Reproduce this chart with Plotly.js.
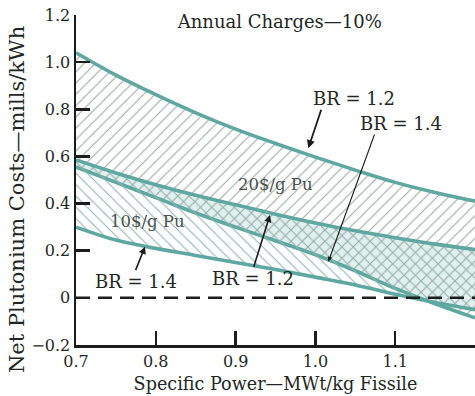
<!DOCTYPE html>
<html>
<head>
<meta charset="utf-8">
<script src="https://cdn.plot.ly/plotly-3.0.1.min.js"></script>
<style>html,body{margin:0;padding:0;background:#fff;}#chart{width:475px;height:396px;}</style>
</head>
<body>
<div id="chart"></div>
<script>
// Specific power (MWt/kg fissile)
const specificPower = [0.7, 0.75, 0.8, 0.85, 0.9, 0.95, 1.0, 1.05, 1.1, 1.15, 1.2];
// Net plutonium costs (mills/kWh)
const pu20_BR12 = [1.04, 0.945, 0.862, 0.785, 0.716, 0.655, 0.597, 0.542, 0.49, 0.447, 0.41];
const pu20_BR14 = [0.555, 0.49, 0.425, 0.36, 0.30, 0.242, 0.183, 0.115, 0.04, -0.025, -0.085];
const pu10_BR12 = [0.585, 0.53, 0.48, 0.435, 0.395, 0.355, 0.318, 0.285, 0.255, 0.228, 0.205];
const pu10_BR14 = [0.30, 0.245, 0.21, 0.18, 0.15, 0.12, 0.088, 0.055, 0.015, -0.02, -0.05];
const zeroLine = [0, 0];
const zeroX = [0.7, 1.2];
const xTickVals = [0.7, 0.8, 0.9, 1.0, 1.1, 1.2];
const xTickText = ['0.7', '0.8', '0.9', '1.0', '1.1', '1.2'];
const yTickVals = [-0.2, 0, 0.2, 0.4, 0.6, 0.8, 1.0, 1.2];
const yTickText = ['\u22120.2', '0', '0.2', '0.4', '0.6', '0.8', '1.0', '1.2'];

// overlap of the two bands (cross-hatched region)
const overlapLow = pu20_BR14.map((v, i) => Math.max(v, pu10_BR14[i]));
const overlapHigh = pu10_BR12.map((v, i) => Math.min(v, pu20_BR12[i]));

const teal = '#5fa8a1';
const ink = '#1e2724';
const serif = 'DejaVu Serif';

const lineStyle = {color: teal, width: 3.6, shape: 'spline', smoothing: 1};

const traces = [
  {x: specificPower, y: overlapLow, mode: 'lines', line: {width: 0, shape: 'spline', smoothing: 1}},
  {x: specificPower, y: overlapHigh, mode: 'lines', line: {width: 0, shape: 'spline', smoothing: 1},
   fill: 'tonexty', fillcolor: 'rgba(140,200,195,0.28)'},
  {x: specificPower, y: pu20_BR14, mode: 'lines', line: lineStyle},
  {x: specificPower, y: pu20_BR12, mode: 'lines', line: lineStyle, fill: 'tonexty',
   fillcolor: 'rgba(0,0,0,0)',
   fillpattern: {shape: '/', fgcolor: '#9ea6a4', bgcolor: 'rgba(0,0,0,0)', size: 8, solidity: 0.14}},
  {x: specificPower, y: pu10_BR14, mode: 'lines', line: lineStyle},
  {x: specificPower, y: pu10_BR12, mode: 'lines', line: lineStyle, fill: 'tonexty',
   fillcolor: 'rgba(0,0,0,0)',
   fillpattern: {shape: '\\', fgcolor: '#8fb3b0', bgcolor: 'rgba(0,0,0,0)', size: 8, solidity: 0.14}},
  {x: zeroX, y: zeroLine, mode: 'lines', line: {color: '#1c1c1c', width: 2.5, dash: '14px,8px'}}
];

function label(text, x, y, size, color) {
  return {text: text, x: x, y: y, xref: 'x', yref: 'y', showarrow: false,
          font: {family: serif, size: size, color: color || ink}};
}
function arrow(x, y, ax, ay, w) {
  return {text: '', x: x, y: y, xref: 'x', yref: 'y', ax: ax, ay: ay, axref: 'pixel', ayref: 'pixel',
          showarrow: true, arrowhead: 2, arrowsize: 0.9, arrowwidth: w, arrowcolor: '#1c1c1c', standoff: 0, startstandoff: 0};
}

const layout = {
  width: 475, height: 396,
  margin: {l: 76, r: 0, t: 15, b: 51, pad: 0},
  paper_bgcolor: '#fff', plot_bgcolor: '#fff',
  showlegend: false,
  title: {text: 'Annual Charges\u201410%', x: 0.589, xanchor: 'center', y: 0.944, yanchor: 'middle',
          font: {family: serif, size: 18, color: ink}},
  xaxis: {range: [0.7, 1.2], tickvals: xTickVals, ticktext: xTickText,
          showline: true, linecolor: '#1c1c1c', linewidth: 2.5, ticks: 'inside', ticklen: 14, tickwidth: 2.5, tickcolor: '#1c1c1c',
          showgrid: false, zeroline: false, automargin: false,
          tickfont: {family: serif, size: 16, color: ink},
          title: {text: 'Specific Power\u2014MWt/kg Fissile', font: {family: serif, size: 17.6, color: ink}, standoff: 8}},
  yaxis: {range: [-0.2, 1.2], tickvals: yTickVals, ticktext: yTickText,
          showline: true, linecolor: '#1c1c1c', linewidth: 2.5, ticks: 'inside', ticklen: 14, tickwidth: 2.5, tickcolor: '#1c1c1c',
          showgrid: false, zeroline: false, automargin: false,
          tickfont: {family: serif, size: 16, color: ink}},
  annotations: [
    {text: 'Net Plutonium Costs\u2014mills/kWh', textangle: -90, xref: 'paper', yref: 'paper',
     x: (17 - 76) / 399, y: (345 - 200) / 330, xanchor: 'center', yanchor: 'middle', showarrow: false,
     font: {family: serif, size: 21, color: ink}},
    label('BR = 1.2', 1.0484, 0.846, 18),
    label('BR = 1.4', 1.1073, 0.740, 18),
    label('20$/g Pu', 0.9506, 0.483, 16.5, '#4a5350'),
    label('10$/g Pu', 0.790, 0.326, 16.5, '#4a5350'),
    label('BR = 1.4', 0.7752, 0.0696, 18),
    label('BR = 1.2', 0.9212, 0.0823, 18),
    arrow(0.9911, 0.6347, 13.4, -40, 1.8),
    arrow(1.0162, 0.1536, 46.7, -128.7, 1.1),
    arrow(0.7865, 0.2172, -10, 25, 1.6),
    arrow(0.9431, 0.3517, -16.7, 53.3, 1.6)
  ]
};

Plotly.newPlot('chart', traces, layout, {staticPlot: true, displayModeBar: false});
</script>
</body>
</html>
